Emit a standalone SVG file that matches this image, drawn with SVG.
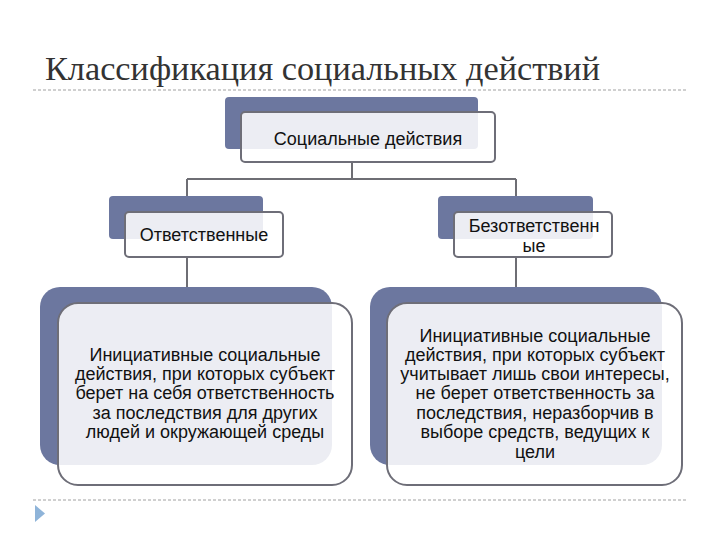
<svg xmlns="http://www.w3.org/2000/svg" width="720" height="540" viewBox="0 0 720 540">
<style>
.title{font-family:"Liberation Serif","DejaVu Serif",serif;font-size:33px;fill:#333}
.t{font-family:"Liberation Sans",Arial,sans-serif;font-size:18px;fill:#111;text-anchor:middle}
.back{fill:#6c779f}
.front{fill:#fff;fill-opacity:0.87;stroke:#6e6e78;stroke-width:2}
.rule{stroke:#a0a0a0;stroke-width:1;stroke-dasharray:3 2;fill:none}
.conn{stroke:#6e6e74;stroke-width:2;fill:none}
</style>
<rect width="720" height="540" fill="#fff"/>
<text class="title" x="45" y="80" textLength="555" lengthAdjust="spacingAndGlyphs">Классификация социальных действий</text>
<line class="rule" x1="33" y1="90" x2="687" y2="90"/>
<line class="rule" x1="33" y1="500" x2="687" y2="500"/>
<polygon points="35,505 45,513.5 35,522" fill="#8fb4d9"/>
<g id="connectors">
<path class="conn" d="M352,162 V179 M187,179 H516 M187,179 V212 M516,179 V212 M187,257 V303 M516,257 V303"/>
</g>
<g id="n-root">
<rect class="back" x="225" y="97" width="253" height="52" rx="4"/>
<rect class="front" x="241" y="112" width="254" height="50" rx="4"/>
<text class="t" x="368" y="145">Социальные действия</text>
</g>
<g id="n-resp">
<rect class="back" x="109" y="196" width="154" height="43" rx="4"/>
<rect class="front" x="125" y="212" width="158" height="45" rx="4"/>
<text class="t" x="204" y="241">Ответственные</text>
</g>
<g id="n-irresp">
<rect class="back" x="438" y="196" width="155" height="43" rx="4"/>
<rect class="front" x="454" y="212" width="158" height="45" rx="4"/>
<text class="t" x="534" y="232">Безответственн</text>
<text class="t" x="534" y="252">ые</text>
</g>
<g id="n-resp-desc">
<rect class="back" x="40" y="287" width="292" height="178" rx="20"/>
<rect class="front" x="58" y="303" width="294" height="182" rx="20"/>
<text class="t" x="205" y="361">Инициативные социальные</text>
<text class="t" x="205" y="380">действия, при которых субъект</text>
<text class="t" x="205" y="399">берет на себя ответственность</text>
<text class="t" x="205" y="419">за последствия для других</text>
<text class="t" x="205" y="438">людей и окружающей среды</text>
</g>
<g id="n-irresp-desc">
<rect class="back" x="370" y="287" width="292" height="178" rx="20"/>
<rect class="front" x="387" y="303" width="295" height="182" rx="20"/>
<text class="t" x="535" y="342">Инициативные социальные</text>
<text class="t" x="535" y="361">действия, при которых субъект</text>
<text class="t" x="535" y="380">учитывает лишь свои интересы,</text>
<text class="t" x="535" y="399">не берет ответственность за</text>
<text class="t" x="535" y="419">последствия, неразборчив в</text>
<text class="t" x="535" y="438">выборе средств, ведущих к</text>
<text class="t" x="535" y="458">цели</text>
</g>
</svg>
